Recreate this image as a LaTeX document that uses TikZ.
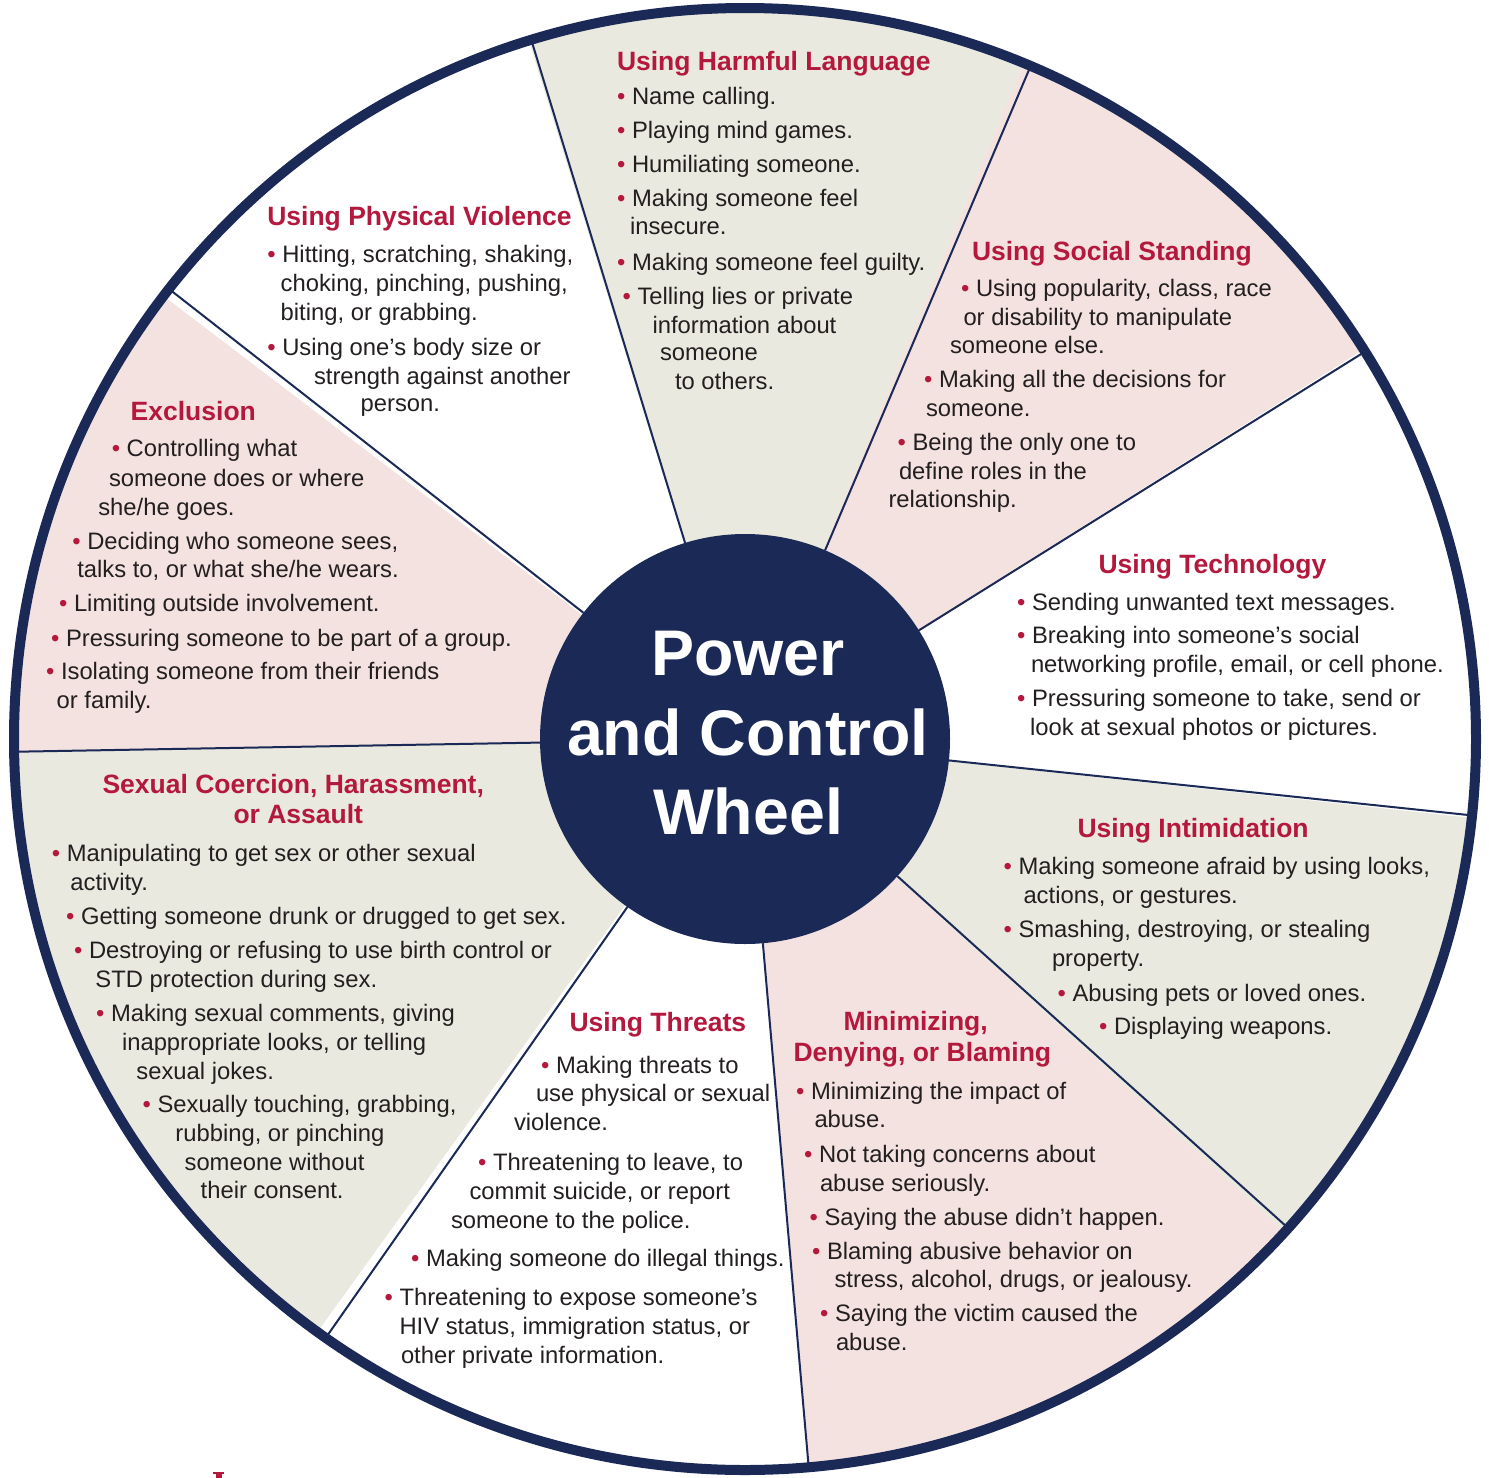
\documentclass[tikz,border=0pt]{standalone}
\usepackage{fontspec}
\setmainfont{Liberation Sans}
\pgfdeclarelayer{bg}
\pgfsetlayers{bg,main}
\definecolor{navy}{RGB}{27,41,87}
\definecolor{bred}{RGB}{180,24,60}
\definecolor{beige}{RGB}{234,233,223}
\definecolor{pinkw}{RGB}{243,226,223}
\definecolor{txtc}{RGB}{35,31,32}
\newcounter{lncnt}
\newcommand\wtext[3]{\stepcounter{lncnt}\node[wtxt] (L\the\value{lncnt}) at (#1,#2) {#3};}
\newcommand\wbul[3]{\stepcounter{lncnt}\node[wtxt] (L\the\value{lncnt}) at (#1,#2) {\llap{\textcolor{bred}{•}\hspace{0.278em}}#3};}
\newcommand\wtitle[3]{\stepcounter{lncnt}\node[wttl] (L\the\value{lncnt}) at (#1,#2) {#3};}
\begin{document}
\begin{tikzpicture}[x=1pt,y=-1pt,
  wtxt/.style={anchor=base west,inner sep=0pt,outer sep=0pt,text=txtc,font=\fontsize{23.8}{28.5}\selectfont},
  wttl/.style={anchor=base west,inner sep=0pt,outer sep=0pt,text=bred,font=\bfseries\fontsize{26.5}{31}\selectfont},
  spoke/.style={draw=navy,line width=2pt},
  ctr/.style={anchor=base,inner sep=0pt,text=white,font=\bfseries\fontsize{64.5}{79}\selectfont}]
\useasboundingbox (0,0) rectangle (1489,1478);
\coordinate (C) at (745,739);
\begin{pgfonlayer}{bg}
\fill[white] (0,0) rectangle (1489,1478);
\fill[beige] (C) -- ++(67.6:731pt) arc[start angle=67.6,end angle=107.2,radius=731pt] -- cycle;
\fill[pinkw] (C) -- ++(32.2:731pt) arc[start angle=32.2,end angle=67.6,radius=731pt] -- cycle;
\fill[beige] (C) -- ++(-42.4:731pt) arc[start angle=-42.4,end angle=-6.2,radius=731pt] -- cycle;
\fill[pinkw] (C) -- ++(-85:731pt) arc[start angle=-85,end angle=-42.4,radius=731pt] -- cycle;
\fill[beige] (C) -- ++(181:731pt) arc[start angle=181,end angle=234.2,radius=731pt] -- cycle;
\fill[pinkw] (C) -- ++(142.7:731pt) arc[start angle=142.7,end angle=181,radius=731pt] -- cycle;
\end{pgfonlayer}
\node[circle,draw=navy,line width=10pt,minimum size=1462pt,inner sep=0pt,outer sep=0pt] (rim) at (C) {};
\node[circle,fill=navy,minimum size=410pt,inner sep=0pt,outer sep=0pt] (hub) at (C) {};
\foreach \a in {107.2,67.6,32.2,-6.2,-42.4,-85,-125.8,181,142.7}
  \draw[spoke] (hub.\a) -- (rim.\a);
\node[ctr] (cw1) at (748,675) {Power};
\node[ctr] (cw2) at (748,755) {and Control};
\node[ctr] (cw3) at (748,834) {Wheel};
% Harmful language
\wtitle{617}{70}{Using Harmful Language}
\wbul{632}{104}{Name calling.}
\wbul{632}{138}{Playing mind games.}
\wbul{632}{172.5}{Humiliating someone.}
\wbul{632}{206.5}{Making someone feel}
\wtext{630}{234.5}{insecure.}
\wbul{632}{270}{Making someone feel guilty.}
\wbul{637.5}{304}{Telling lies or private}
\wtext{652.5}{333}{information about}
\wtext{660}{360.5}{someone}
\wtext{675}{389}{to others.}
% Social standing
\wtitle{972}{260}{Using Social Standing}
\wbul{976}{296.5}{Using popularity, class, race}
\wtext{963.5}{325}{or disability to manipulate}
\wtext{950}{353.5}{someone else.}
\wbul{939}{387}{Making all the decisions for}
\wtext{926}{416}{someone.}
\wbul{912.5}{450}{Being the only one to}
\wtext{899}{479}{define roles in the}
\wtext{888.5}{507.5}{relationship.}
% Technology
\wtitle{1098.5}{573.5}{Using Technology}
\wbul{1032}{610}{Sending unwanted text messages.}
\wbul{1032}{643.5}{Breaking into someone’s social}
\wtext{1031}{672.5}{networking profile, email, or cell phone.}
\wbul{1032}{706.5}{Pressuring someone to take, send or}
\wtext{1030}{735}{look at sexual photos or pictures.}
% Intimidation
\wtitle{1077.5}{837.5}{Using Intimidation}
\wbul{1018.5}{874}{Making someone afraid by using looks,}
\wtext{1023.5}{903}{actions, or gestures.}
\wbul{1018.5}{937.5}{Smashing, destroying, or stealing}
\wtext{1052}{966.5}{property.}
\wbul{1072.5}{1001}{Abusing pets or loved ones.}
\wbul{1114}{1034.5}{Displaying weapons.}
% Minimizing
\wtitle{843.5}{1030}{Minimizing,}
\wtitle{793.5}{1061.5}{Denying, or Blaming}
\wbul{811}{1099}{Minimizing the impact of}
\wtext{814.5}{1127.5}{abuse.}
\wbul{819}{1162.5}{Not taking concerns about}
\wtext{820}{1191}{abuse seriously.}
\wbul{824.5}{1225}{Saying the abuse didn’t happen.}
\wbul{827}{1259}{Blaming abusive behavior on}
\wtext{834.5}{1287.5}{stress, alcohol, drugs, or jealousy.}
\wbul{835}{1321.5}{Saying the victim caused the}
\wtext{836}{1350}{abuse.}
% Threats
\wtitle{569.5}{1031.5}{Using Threats}
\wbul{556}{1073.5}{Making threats to}
\wtext{536}{1101.5}{use physical or sexual}
\wtext{514}{1130.5}{violence.}
\wbul{493}{1170}{Threatening to leave, to}
\wtext{469.5}{1199.5}{commit suicide, or report}
\wtext{451}{1228.5}{someone to the police.}
\wbul{426}{1266.5}{Making someone do illegal things.}
\wbul{399.5}{1305}{Threatening to expose someone’s}
\wtext{399.5}{1334.5}{HIV status, immigration status, or}
\wtext{401}{1363.5}{other private information.}
% Sexual coercion
\wtitle{102.5}{793.5}{Sexual Coercion, Harassment,}
\wtitle{233.5}{823.5}{or Assault}
\wbul{66.8}{861}{Manipulating to get sex or other sexual}
\wtext{70.4}{890}{activity.}
\wbul{81}{924}{Getting someone drunk or drugged to get sex.}
\wbul{89}{958.5}{Destroying or refusing to use birth control or}
\wtext{95.4}{987.5}{STD protection during sex.}
\wbul{111}{1021}{Making sexual comments, giving}
\wtext{122}{1050}{inappropriate looks, or telling}
\wtext{136.4}{1079}{sexual jokes.}
\wbul{157.5}{1112.5}{Sexually touching, grabbing,}
\wtext{175.4}{1141.5}{rubbing, or pinching}
\wtext{184.6}{1170}{someone without}
\wtext{200.7}{1198.5}{their consent.}
% Exclusion
\wtitle{130.7}{420.7}{Exclusion}
\wbul{126.7}{456.7}{Controlling what}
\wtext{109}{486.7}{someone does or where}
\wtext{98.3}{515}{she/he goes.}
\wbul{87.3}{549}{Deciding who someone sees,}
\wtext{77.3}{577.3}{talks to, or what she/he wears.}
\wbul{74}{611.7}{Limiting outside involvement.}
\wbul{66}{646}{Pressuring someone to be part of a group.}
\wbul{61}{679.3}{Isolating someone from their friends}
\wtext{56.7}{708.3}{or family.}
% Physical violence
\wtitle{267.3}{225}{Using Physical Violence}
\wbul{282.3}{262.7}{Hitting, scratching, shaking,}
\wtext{280.7}{291.7}{choking, pinching, pushing,}
\wtext{280.7}{320}{biting, or grabbing.}
\wbul{282.3}{355}{Using one’s body size or}
\wtext{314}{384}{strength against another}
\wtext{360.7}{411.7}{person.}
% fragment of red letter at the bottom edge
\fill[bred] (213.3,1471.7) rectangle (224,1473.6);
\fill[bred] (216.2,1473.6) rectangle (221.6,1478);
\end{tikzpicture}
\end{document}
